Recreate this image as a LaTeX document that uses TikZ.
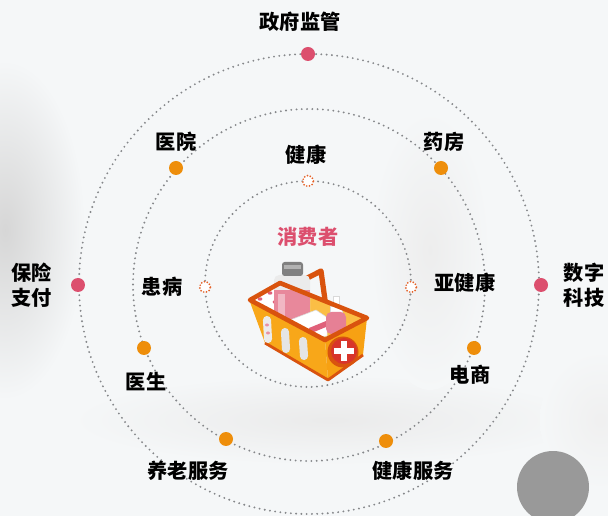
\documentclass[tikz,border=0pt]{standalone}
\usepackage{fontspec}
\IfFontExistsTF{Noto Sans CJK SC Black}
	{\setmainfont{Noto Sans CJK SC}[BoldFont={Noto Sans CJK SC Black}]}
	{\setmainfont{Noto Sans CJK SC}[BoldFont={Noto Sans CJK SC Bold}]}
\usetikzlibrary{positioning, calc}

\definecolor{bgcol}{HTML}{F5F7F8}
\definecolor{rosered}{HTML}{DC4F6E}
\definecolor{amber}{HTML}{EE8E0B}
\definecolor{rust}{HTML}{E5632A}
\definecolor{dotgray}{HTML}{85878A}
\definecolor{basketlight}{HTML}{FBBE45}
\definecolor{basketfront}{HTML}{F8A719}
\definecolor{basketside}{HTML}{F7A113}
\definecolor{basketdark}{HTML}{D9530E}
\definecolor{pill}{HTML}{E0607A}
\definecolor{crossred}{HTML}{D8352A}

\tikzset{
	ring/.style={dotgray, line width=1.2pt, dash pattern=on 0pt off 3pt, line cap=round},
	lbl/.style={font=\fontsize{11.5}{14.5}\selectfont\bfseries, text=black, align=center, inner sep=0pt},
	bigdot/.style={circle, fill=#1, minimum size=0.28cm, inner sep=0pt},
	hollowdot/.style={circle, draw=rust, fill=white, line width=1.1pt,
		dash pattern=on 0pt off 1.7pt, line cap=round, minimum size=0.22cm, inner sep=0pt},
	slot/.style={line width=4.6pt, line cap=round},
}

\begin{document}
\begin{tikzpicture}[x=0.02cm, y=-0.02cm]
	\useasboundingbox (0,0) rectangle (608,516);
	\fill[bgcol] (0,0) rectangle (608,516);

		%soft shadows in the background
	\begin{scope}
		\clip (0,0) rectangle (608,516);
		\shade[inner color=black!16, outer color=bgcol] (5,230) ellipse (80 and 170);
		\shade[inner color=black!8, outer color=bgcol] (330,420) ellipse (260 and 45);
		\shade[inner color=black!7, outer color=bgcol] (430,250) ellipse (60 and 140);
		\shade[inner color=black!6, outer color=bgcol] (600,420) ellipse (60 and 70);
	\end{scope}
	\fill[black!40] (553,487) circle (36);

		%dotted orbits
	\draw[ring] (309,284) circle (230);
	\draw[ring] (309,285) circle (176);
	\draw[ring] (308,284) circle (103);

		%outer orbit
	\node[bigdot=rosered] (gov) at (308,54) {};
	\node[bigdot=rosered] (pay) at (78,285) {};
	\node[bigdot=rosered] (tech) at (541,285) {};
	\node[lbl] (govtxt) at (300,22) {政府监管};
	\node[lbl] (paytxt) at (32,285) {保险\\支付};
	\node[lbl] (techtxt) at (584,285) {数字\\科技};

		%middle orbit
	\node[bigdot=amber] (hosp) at (176,168) {};
	\node[bigdot=amber] (pharm) at (441,168) {};
	\node[bigdot=amber] (doc) at (144,348) {};
	\node[bigdot=amber] (shop) at (474,348) {};
	\node[bigdot=amber] (elder) at (226,439) {};
	\node[bigdot=amber] (care) at (386,441) {};
	\node[lbl] (hosptxt) at (176,142) {医院};
	\node[lbl] (pharmtxt) at (444,142) {药房};
	\node[lbl] (doctxt) at (146,382) {医生};
	\node[lbl] (shoptxt) at (470,375) {电商};
	\node[lbl] (eldertxt) at (188,471) {养老服务};
	\node[lbl] (caretxt) at (413,471) {健康服务};

		%inner orbit
	\node[hollowdot] (well) at (308,181) {};
	\node[hollowdot] (ill) at (205,287) {};
	\node[hollowdot] (sub) at (411,287) {};
	\node[lbl] (welltxt) at (306,155) {健康};
	\node[lbl] (illtxt) at (162,287) {患病};
	\node[lbl] (subtxt) at (465,283) {亚健康};

		%consumer in the middle
	\node[lbl, text=rosered] (user) at (308,237) {消费者};

		%basket inside
	\fill[basketlight] (250,300) -- (280,283) -- (367,318) -- (325,340) -- cycle;
	\draw[basketdark, line width=3pt, line cap=round, line join=round]
		(288,318) -- (288,288) -- (321,271) -- (325,300);
		%pill sheet
	\fill[white, draw=black!15, line width=0.3pt] (253,298) -- (276,285) -- (292,320) -- (268,334) -- cycle;
	\foreach \t in {0,1,2,3} {
		\fill[pill] ($(260,299)+(\t*5,\t*9)$) ellipse (2.4 and 1.7);
		\fill[pill] ($(270,293)+(\t*5,\t*9)$) ellipse (2.4 and 1.7);
	}
		%big bottle
	\fill[black!8, rounded corners=3pt] (274,275) rectangle (310,326);
	\fill[pill!75] (274,290) rectangle (310,326);
	\fill[pill!45] (278,294) rectangle (285,322);
	\fill[black!50, rounded corners=1.5pt] (282,262) rectangle (303,276);
	\fill[black!30] (284,265) rectangle (301,269);
		%box
	\fill[white, draw=black!15, line width=0.3pt] (290,320) -- (316,310) -- (328,318) -- (327,336) -- (292,340) -- cycle;
	\fill[pill] (309,328) -- (326,321) -- (326,327) -- (309,334) -- cycle;
		%dropper bottle
	\fill[white, draw=black!15, line width=0.3pt] (333,296) rectangle (339,307);
	\fill[white, draw=black!15, line width=0.3pt] (330,306) rectangle (342,313);
	\fill[pill!80, rounded corners=3pt] (326,312) rectangle (346,334);

		%basket outside
	\fill[basketfront] (250,302) -- (325,340) -- (328,380) -- (265,343) -- cycle;
	\fill[basketside] (325,340) -- (367,318) -- (363,355) -- (328,380) -- cycle;
	\draw[basketdark, line width=1.6pt, line join=round] (265,343) -- (328,380) -- (363,355);
	\draw[slot, black!8] (267,320) -- (268,339);
	\draw[slot, black!10] (285,332) -- (286,349);
	\draw[slot, black!10] (303,341) -- (304,356);
	\fill[pill!70] (267,325) ellipse (2 and 1.5) (268,333) ellipse (2 and 1.5);
	\draw[basketdark, line width=2.6pt, line join=round]
		(250,300) -- (280,283) -- (367,318) -- (325,340) -- cycle;
	\fill[basketdark] (343,352) circle (15.5);
	\fill[crossred] (344,351) circle (13);
	\fill[white] (341,341) rectangle (347,361);
	\fill[white] (334,348) rectangle (354,354);
\end{tikzpicture}
\end{document}
